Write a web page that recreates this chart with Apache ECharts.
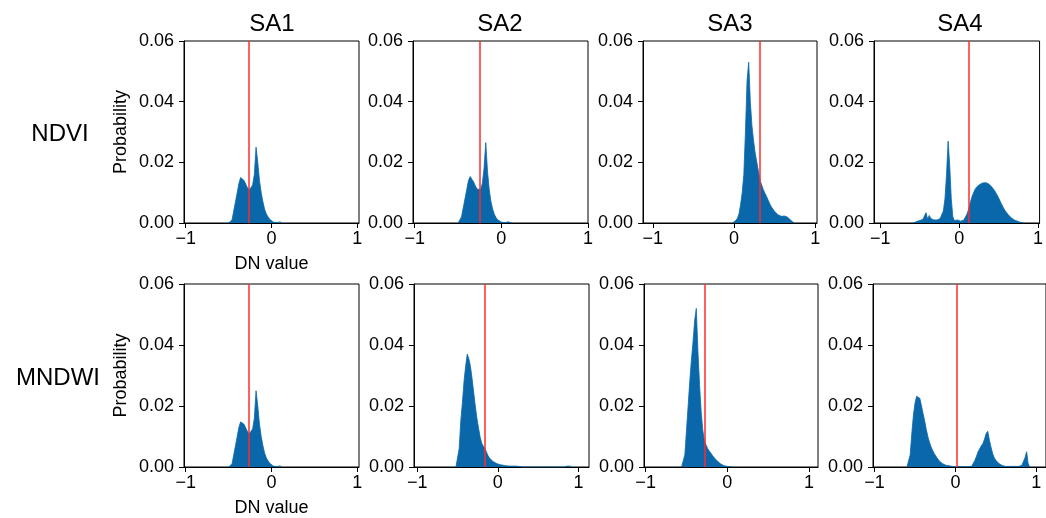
<!DOCTYPE html>
<html>
<head>
<meta charset="utf-8">
<script src="https://cdn.jsdelivr.net/npm/echarts@6/dist/echarts.min.js"></script>
<style>
html,body{margin:0;padding:0;background:#fff;}
#chart{width:1046px;height:518px;}
</style>
</head>
<body>
<div id="chart"></div>
<script>
// ---------------- DATA ----------------
const columns = ['SA1', 'SA2', 'SA3', 'SA4'];
const rows = ['NDVI', 'MNDWI'];
const xTickValues = [-1, 0, 1];
const yTickInterval = 0.02;
const yMax = 0.06;
const binWidth = 0.02;

// thresholds (red lines)
const ndviThresholds = [-0.26, -0.25, 0.32, 0.12];
const mndwiThresholds = [-0.26, -0.16, -0.28, 0.02];

// x-axis limits per panel
const ndviXLimits = [[-1.02, 1.02], [-1.02, 1.0], [-1.12, 1.02], [-1.08, 1.02]];
const mndwiXLimits = [[-1.02, 1.02], [-1.04, 1.13], [-1.02, 1.11], [-1.02, 1.12]];

// histogram probabilities: first bin centre + values every binWidth
const ndviSA1Start = -0.50;
const ndviSA1 = [0, 0.0003, 0.001, 0.004, 0.007, 0.010, 0.013, 0.015, 0.0152, 0.014, 0.0128, 0.0116, 0.0108, 0.011, 0.0125, 0.016, 0.025, 0.020, 0.014, 0.010, 0.007, 0.0045, 0.003, 0.002, 0.0012, 0.0007, 0.0003, 0.0001, 0.0001, 0.0003, 0.0004, 0];

const ndviSA2Start = -0.50;
const ndviSA2 = [0, 0.0005, 0.002, 0.005, 0.008, 0.011, 0.014, 0.0153, 0.0148, 0.0135, 0.0122, 0.0112, 0.0107, 0.011, 0.013, 0.018, 0.0265, 0.017, 0.011, 0.007, 0.0045, 0.0028, 0.0017, 0.001, 0.0006, 0.0003, 0.0002, 0.0001, 0.0002, 0.0004, 0.0002, 0];

const ndviSA3Start = -0.02;
const ndviSA3 = [0, 0.0003, 0.0008, 0.0015, 0.003, 0.006, 0.010, 0.016, 0.030, 0.047, 0.053, 0.040, 0.032, 0.027, 0.023, 0.020, 0.017, 0.014, 0.0125, 0.011, 0.0098, 0.0087, 0.0075, 0.0063, 0.0053, 0.0045, 0.0038, 0.0032, 0.0027, 0.0024, 0.0022, 0.0022, 0.0023, 0.0022, 0.0019, 0.0014, 0.0008, 0.0003, 0];

const ndviSA4Start = -0.58;
const ndviSA4 = [0, 0.0002, 0.0005, 0.0007, 0.0008, 0.001, 0.0012, 0.0015, 0.0034, 0.0012, 0.0025, 0.0015, 0.0012, 0.001, 0.001, 0.001, 0.0012, 0.0015, 0.002, 0.004, 0.008, 0.016, 0.027, 0.019, 0.008, 0.002, 0.0008, 0.0006, 0.001, 0.0008, 0.0006, 0.0008, 0.001, 0.0015, 0.003, 0.0045, 0.0065, 0.0085, 0.0098, 0.011, 0.0118, 0.0123, 0.0127, 0.013, 0.0132, 0.0133, 0.0133, 0.0131, 0.0128, 0.0123, 0.0117, 0.011, 0.0102, 0.0093, 0.0083, 0.0072, 0.0061, 0.0051, 0.0042, 0.0035, 0.0028, 0.0022, 0.0017, 0.0013, 0.001, 0.0008, 0.0006, 0.0004, 0.0002, 0.0001, 0];

const mndwiSA1Start = -0.50;
const mndwiSA1 = [0, 0.0003, 0.001, 0.004, 0.007, 0.010, 0.013, 0.0148, 0.015, 0.014, 0.0128, 0.0116, 0.0108, 0.011, 0.0125, 0.016, 0.025, 0.020, 0.014, 0.010, 0.007, 0.0045, 0.003, 0.002, 0.0012, 0.0007, 0.0003, 0.0001, 0.0001, 0.0003, 0.0004, 0];

const mndwiSA2Start = -0.52;
const mndwiSA2 = [0, 0.0005, 0.006, 0.015, 0.021, 0.028, 0.033, 0.037, 0.0355, 0.033, 0.029, 0.0245, 0.020, 0.016, 0.0128, 0.0098, 0.0078, 0.0068, 0.006, 0.0048, 0.0036, 0.0028, 0.0022, 0.0018, 0.0015, 0.0012, 0.001, 0.0008, 0.0007, 0.0006, 0.0005, 0.0004, 0.0003, 0.0003, 0.0003, 0.0003, 0.0003, 0.0003, 0.0003, 0.0002, 0.0002, 0, 0, 0, 0, 0, 0, 0, 0, 0, 0, 0, 0, 0, 0, 0, 0, 0, 0, 0, 0, 0, 0, 0, 0, 0, 0, 0, 0, 0.0003, 0.0005, 0.0003, 0];

const mndwiSA3Start = -0.56;
const mndwiSA3 = [0, 0.0005, 0.004, 0.012, 0.020, 0.028, 0.035, 0.041, 0.048, 0.052, 0.038, 0.027, 0.018, 0.012, 0.0085, 0.0072, 0.006, 0.0052, 0.0045, 0.0037, 0.003, 0.0024, 0.0019, 0.0014, 0.001, 0.0006, 0.0004, 0.0003, 0.0002, 0.0001, 0.0001, 0];

const mndwiSA4Start = -0.60;
const mndwiSA4 = [0, 0.0003, 0.004, 0.011, 0.017, 0.021, 0.0232, 0.0236, 0.0225, 0.020, 0.0175, 0.015, 0.0122, 0.0098, 0.008, 0.0065, 0.0053, 0.0043, 0.0035, 0.0027, 0.002, 0.0015, 0.0011, 0.0008, 0.0006, 0.0005, 0.0004, 0.0003, 0.0002, 0.0002, 0.0001, 0.0001, 0.0001, 0.0001, 0.0001, 0.0001, 0.0001, 0.0001, 0.0001, 0.0001, 0.0002, 0.0008, 0.0022, 0.0035, 0.005, 0.006, 0.007, 0.0077, 0.0092, 0.011, 0.0117, 0.0088, 0.0065, 0.0044, 0.003, 0.0022, 0.0016, 0.0011, 0.0008, 0.0005, 0.0003, 0.0002, 0.0002, 0.0002, 0.0002, 0.0002, 0.0002, 0.0002, 0.0002, 0.0002, 0.0003, 0.0005, 0.001, 0.003, 0.005, 0.001, 0];

const ndviHists = [[ndviSA1Start, ndviSA1], [ndviSA2Start, ndviSA2], [ndviSA3Start, ndviSA3], [ndviSA4Start, ndviSA4]];
const mndwiHists = [[mndwiSA1Start, mndwiSA1], [mndwiSA2Start, mndwiSA2], [mndwiSA3Start, mndwiSA3], [mndwiSA4Start, mndwiSA4]];

// ---------------- LAYOUT / STYLE ----------------
const FONT = '"Liberation Sans", Arial, Helvetica, sans-serif';
const BLUE = '#0a68aa';
const RED = '#ff2b2b';
const rowTops = [41, 284];
const rowHeights = [182, 183];
const gridLefts = [[184, 413, 643, 874], [184, 414, 644, 873]];
const gridWidths = [[175, 175, 174, 174], [175, 175, 174, 175]];
const titleCenters = [272, 500, 730, 960];

function fmtX(v) {
  if (v < 0) return '\u2212' + Math.abs(v);
  return String(v);
}

const grids = [], xAxes = [], yAxes = [], series = [];
const histSets = [ndviHists, mndwiHists];
const thrSets = [ndviThresholds, mndwiThresholds];
const limSets = [ndviXLimits, mndwiXLimits];

let idx = 0;
for (let r = 0; r < 2; r++) {
  for (let c = 0; c < 4; c++) {
    grids.push({
      left: gridLefts[r][c], top: rowTops[r], width: gridWidths[r][c], height: rowHeights[r],
      show: true, borderColor: '#000', borderWidth: 1, backgroundColor: 'transparent',
      containLabel: false
    });
    xAxes.push({
      type: 'value', gridIndex: idx,
      min: limSets[r][c][0], max: limSets[r][c][1],
      axisLine: { show: true, onZero: false, lineStyle: { color: '#000', width: 1 } },
      axisTick: { show: true, length: 5, lineStyle: { color: '#000', width: 1 }, customValues: xTickValues },
      axisLabel: { show: true, customValues: xTickValues, formatter: fmtX, color: '#000', fontSize: 18, fontFamily: FONT, margin: 7 },
      splitLine: { show: false },
      name: c === 0 ? 'DN value' : '',
      nameLocation: 'middle', nameGap: 32,
      nameTextStyle: { color: '#000', fontSize: 18, fontFamily: FONT }
    });
    yAxes.push({
      type: 'value', gridIndex: idx,
      min: 0, max: yMax, interval: yTickInterval,
      axisLine: { show: true, onZero: false, lineStyle: { color: '#000', width: 1 } },
      axisTick: { show: true, length: 5, lineStyle: { color: '#000', width: 1 } },
      axisLabel: { show: true, formatter: v => v.toFixed(2), color: '#000', fontSize: 18, fontFamily: FONT, margin: 10 },
      splitLine: { show: false },
      name: c === 0 ? 'Probability' : '',
      nameLocation: 'middle', nameGap: 54,
      nameTextStyle: { color: '#000', fontSize: 18, fontFamily: FONT }
    });
    const start = histSets[r][c][0];
    const vals = histSets[r][c][1];
    const data = vals.map((v, i) => [+(start + i * binWidth).toFixed(3), v]);
    series.push({
      type: 'line', xAxisIndex: idx, yAxisIndex: idx,
      data: data, symbol: 'none', silent: true,
      lineStyle: { color: BLUE, width: 0.8 },
      areaStyle: { color: BLUE, opacity: 1 },
      markLine: {
        silent: true, symbol: ['none', 'none'],
        label: { show: false },
        lineStyle: { color: RED, width: 1.5, type: 'solid' },
        data: [{ xAxis: thrSets[r][c] }]
      },
      z: 2
    });
    idx++;
  }
}

const graphics = [];
columns.forEach((t, c) => {
  graphics.push({
    type: 'text', x: titleCenters[c], y: 24,
    style: { text: t, fill: '#000', font: '24px ' + FONT, align: 'center', verticalAlign: 'middle' }
  });
});
const rowLabelPos = [[60, 134], [58, 378]];
rows.forEach((t, r) => {
  graphics.push({
    type: 'text', x: rowLabelPos[r][0], y: rowLabelPos[r][1],
    style: { text: t, fill: '#000', font: '24px ' + FONT, align: 'center', verticalAlign: 'middle' }
  });
});

const chart = echarts.init(document.getElementById('chart'), null, { renderer: 'canvas' });
chart.setOption({
  animation: false,
  backgroundColor: '#fff',
  grid: grids,
  xAxis: xAxes,
  yAxis: yAxes,
  series: series,
  graphic: graphics
});
</script>
</body>
</html>
